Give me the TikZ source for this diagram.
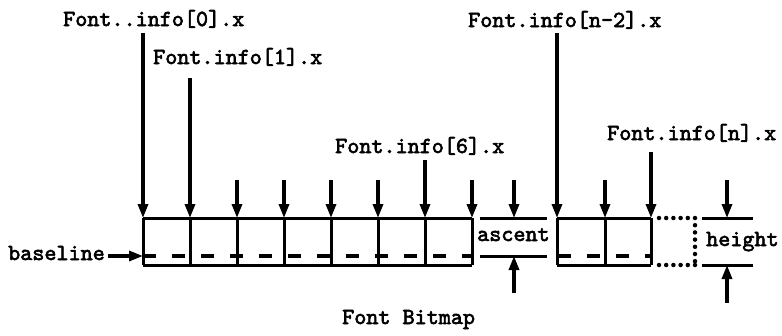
\documentclass[tikz,border=0pt]{standalone}
\usepackage{fontspec}
\setmonofont[FakeBold=2.6]{lmmono10-regular.otf}
\usetikzlibrary{arrows.meta,calc}
\tikzset{
  lbl/.style={font=\ttfamily\fontsize{23}{27}\selectfont, inner sep=0pt},
  arr/.style={line width=3.2pt, -{Triangle[length=14pt,width=10pt]}},
  rule/.style={line width=3pt},
  baseln/.style={line width=3.2pt, dash pattern=on 13pt off 16pt},
  dots/.style={line width=4.5pt, line cap=round, dash pattern=on 0pt off 7.2pt}
}
\begin{document}
\begin{tikzpicture}[x=1pt,y=-1pt]
\useasboundingbox (0,0) rectangle (782,335);
% box top coordinates
\foreach \i/\x in {0/143,1/190,2/237,3/284,4/331,5/378,6/425,7/472}{
  \coordinate (t\i) at (\x,218);
  \coordinate (b\i) at (\x,265);
  \coordinate (s\i) at (\x,180);
}
\coordinate (u0) at (557,218); \coordinate (u1) at (605,218); \coordinate (u2) at (651,218);
\coordinate (v0) at (557,265); \coordinate (v1) at (605,265); \coordinate (v2) at (651,265);
% main box
\draw[rule] (t0) -- (t7);
\draw[rule] (b0) -- (b7);
\foreach \i in {0,...,7}{ \draw[rule] (t\i) -- (b\i); }
\draw[baseln] (143,256) -- (472,256);
% right box
\draw[rule] (u0) -- (u2);
\draw[rule] (v0) -- (v2);
\foreach \i in {0,1,2}{ \draw[rule] (u\i) -- (v\i); }
\draw[baseln, dash phase=-1pt] (557,256) -- (651,256);
% dotted continuation
\coordinate (d0) at (659,218); \coordinate (d1) at (695,218);
\coordinate (d2) at (695,265); \coordinate (d3) at (659,265);
\draw[dots] (d0) -- (d1) -- (d2);
\draw[dots] (d3) -- (d2);
% labels
\node[lbl, anchor=base west] (l0) at (63,26) {Font..info[0].x};
\node[lbl, anchor=base west] (l1) at (153,64) {Font.info[1].x};
\node[lbl, anchor=base west] (l6) at (335,153) {Font.info[6].x};
\node[lbl, anchor=base west] (lm) at (468,27) {Font.info[n-2].x};
\node[lbl, anchor=base west] (ln) at (607,140) {Font.info[n].x};
\node[lbl, anchor=base west] (lb) at (8,260) {baseline};
\node[lbl, anchor=base west] (la) at (477,241) {ascent};
\node[lbl, anchor=base west] (lh) at (706,246) {height};
\node[lbl, anchor=base west] (lf) at (342,324) {Font Bitmap};
% long arrows from labels
\draw[arr] (t0 |- l0.base) ++(0,7) -- (t0);
\draw[arr] (t1 |- l1.base) ++(0,14) -- (t1);
\draw[arr] (t6 |- l6.base) ++(0,7) -- (t6);
\draw[arr] (u0 |- lm.base) ++(0,6) -- (u0);
\draw[arr] (u2 |- ln.base) ++(0,12) -- (u2);
% short arrows
\foreach \i in {2,3,4,5,7}{ \draw[arr] (s\i) -- (t\i); }
\coordinate (s8) at (605,180);
\draw[arr] (s8) -- (u1);
% baseline arrow
\coordinate (bl) at (143,256);
\draw[arr] (lb.east |- bl) ++(3,0) -- (bl);
% ascent
\coordinate (a1) at (480,218); \coordinate (a2) at (547,218);
\coordinate (a3) at (480,256); \coordinate (a4) at (547,256);
\draw[rule] (a1) -- (a2);
\draw[rule] (a3) -- (a4);
\coordinate (at) at (514,218); \coordinate (ab) at (514,256);
\coordinate (ats) at (514,180); \coordinate (abs) at (514,293);
\draw[arr] (ats) -- (at);
\draw[arr] (abs) -- (ab);
% height
\coordinate (h1) at (702,218); \coordinate (h2) at (753,218);
\coordinate (h3) at (702,265); \coordinate (h4) at (753,265);
\draw[rule] (h1) -- (h2);
\draw[rule] (h3) -- (h4);
\coordinate (ht) at (727,218); \coordinate (hb) at (727,265);
\coordinate (hts) at (727,180); \coordinate (hbs) at (727,303);
\draw[arr] (hts) -- (ht);
\draw[arr] (hbs) -- (hb);
\end{tikzpicture}
\end{document}
